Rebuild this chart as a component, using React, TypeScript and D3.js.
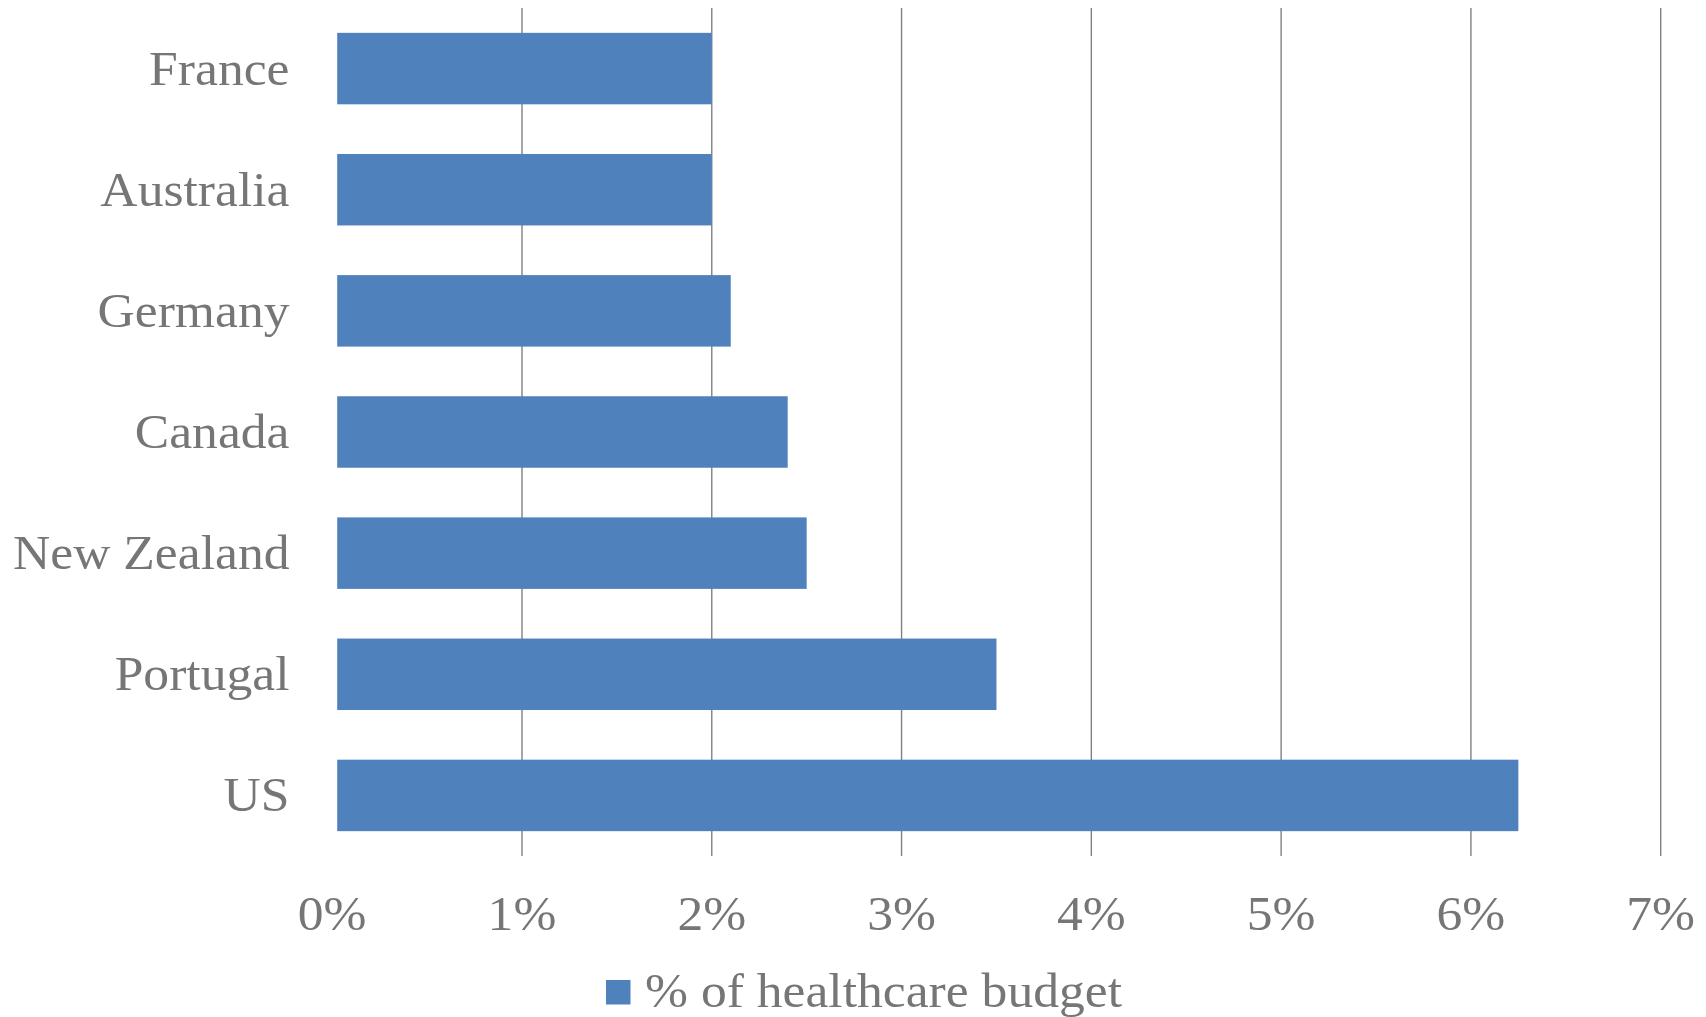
import React from "react";
import * as d3 from "d3";

const countries = ["France", "Australia", "Germany", "Canada", "New Zealand", "Portugal", "US"];
const values = [2.0, 2.0, 2.1, 2.4, 2.5, 3.5, 6.25];
const xTicks = [0, 1, 2, 3, 4, 5, 6, 7];
const gridTicks = [1, 2, 3, 4, 5, 6, 7];
const seriesName = "% of healthcare budget";

const W = 1706;
const H = 1017;
const plotTop = 8;
const plotBottom = 856;
const x0 = 332.2;
const x7 = 1660.7;
const barOffset = 5;
const BAR = "#4f81bd";
const TEXT = "#767676";
const GRID = "#808080";
const FONT = "'Liberation Serif', 'Times New Roman', serif";
const FS = 48;
const SX = 1.075;

export default function App() {
  const x = d3.scaleLinear().domain([0, 7]).range([x0, x7]);
  const y = d3
    .scaleBand<string>()
    .domain(countries)
    .range([plotTop, plotBottom])
    .paddingInner(0.41)
    .paddingOuter(0.205);

  return (
    <svg
      width={W}
      height={H}
      style={{ position: "absolute", left: 0, top: 0, background: "#fff" }}
    >
      <rect x={0} y={0} width={W} height={H} fill="#fff" />
      {gridTicks.map((t) => (
        <line
          key={t}
          x1={x(t)}
          x2={x(t)}
          y1={plotTop}
          y2={plotBottom}
          stroke={GRID}
          strokeWidth={1.4}
        />
      ))}
      {countries.map((c, i) => (
        <rect
          key={c}
          x={x(0) + barOffset}
          y={y(c)}
          width={x(values[i]) - x(0) - barOffset}
          height={y.bandwidth()}
          fill={BAR}
        />
      ))}
      {countries.map((c) => {
        const cy = (y(c) as number) + y.bandwidth() / 2 + 16;
        return (
          <g key={c} transform={`translate(289.5, ${cy}) scale(${SX}, 1)`}>
            <text
              x={0}
              y={0}
              textAnchor="end"
              fontFamily={FONT}
              fontSize={FS}
              fill={TEXT}
            >
              {c}
            </text>
          </g>
        );
      })}
      {xTicks.map((t) => (
        <g key={t} transform={`translate(${x(t)}, 930) scale(${SX}, 1)`}>
          <text
            x={0}
            y={0}
            textAnchor="middle"
            fontFamily={FONT}
            fontSize={FS}
            fill={TEXT}
          >
            {`${t}%`}
          </text>
        </g>
      ))}
      <rect x={606} y={980} width={24.5} height={24.5} fill={BAR} />
      <g transform={`translate(645, 1007) scale(${SX}, 1)`}>
        <text x={0} y={0} fontFamily={FONT} fontSize={FS} fill={TEXT}>
          {seriesName}
        </text>
      </g>
    </svg>
  );
}
